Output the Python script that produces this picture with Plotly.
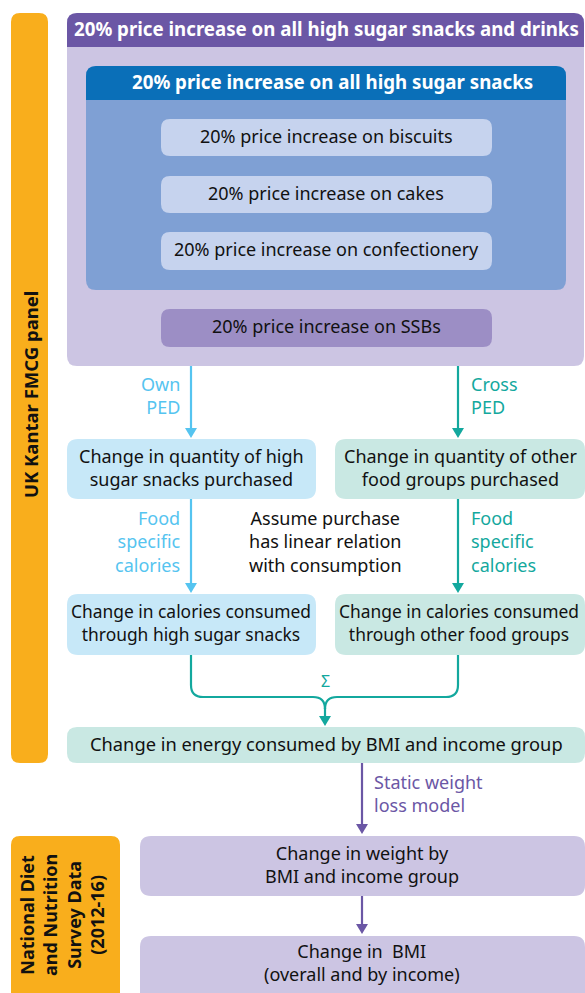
import plotly.graph_objects as go

W, H = 585, 993
FONT = "Noto Sans"
FS = 18
DY = -2  # optical text offset

# ---- texts (content) ----
outer_header = "20% price increase on all high sugar snacks and drinks"
inner_header = "20% price increase on all high sugar snacks"
item_labels = ["20% price increase on biscuits",
               "20% price increase on cakes",
               "20% price increase on confectionery"]
ssb_label = "20% price increase on SSBs"
left_boxes = ["Change in quantity of high<br>sugar snacks purchased",
              "Change in calories consumed<br>through high sugar snacks"]
right_boxes = ["Change in quantity of other<br>food groups purchased",
               "Change in calories consumed<br>through other food groups"]
energy_label = "Change in energy consumed by BMI and income group"
weight_label = "Change in weight by<br>BMI and income group"
bmi_label = "Change in  BMI<br>(overall and by income)"
side_labels = ["UK Kantar FMCG panel",
               "National Diet<br>and Nutrition<br>Survey Data<br>(2012-16)"]
arrow_labels = ["Own<br>PED", "Cross<br>PED", "Food<br>specific<br>calories",
                "Food<br>specific<br>calories", "Static weight<br>loss model"]
middle_note = "Assume purchase<br>has linear relation<br>with consumption"
sum_symbol = "Σ"

# ---- colours ----
ORANGE = "#f9ae1c"
PURPLE_D = "#6b57a5"
PURPLE_L = "#ccc5e3"
BLUE_D = "#0a6fb8"
BLUE_M = "#7fa0d4"
BLUE_L = "#c6d3ee"
SSB_C = "#9c8ec5"
SKY_L = "#c7e8f8"
SKY = "#55c4f0"
TEAL_L = "#c9e8e3"
TEAL = "#13a89e"


def rrect(x0, y0, x1, y1, r=10, tl=True, tr=True, br=True, bl=True):
    rtl, rtr, rbr, rbl = [r if f else 0 for f in (tl, tr, br, bl)]
    p = f"M{x0+rtl},{y0} L{x1-rtr},{y0} "
    p += f"Q{x1},{y0} {x1},{y0+rtr} " if rtr else ""
    p += f"L{x1},{y1-rbr} "
    p += f"Q{x1},{y1} {x1-rbr},{y1} " if rbr else ""
    p += f"L{x0+rbl},{y1} "
    p += f"Q{x0},{y1} {x0},{y1-rbl} " if rbl else ""
    p += f"L{x0},{y0+rtl} "
    p += f"Q{x0},{y0} {x0+rtl},{y0} " if rtl else ""
    return p + "Z"


shapes = []
ann = []


def box(x0, y0, x1, y1, color, r=10, **kw):
    shapes.append(dict(type="path", path=rrect(x0, y0, x1, y1, r, **kw),
                       fillcolor=color, line=dict(width=0), layer="below"))


def text(x, y, t, size=FS, color="#111111", bold=False, xanchor="center",
         align="center", angle=0, dy=DY):
    if bold:
        t = f"<b>{t}</b>"
    ann.append(dict(x=x, y=y + dy, xref="x", yref="y", text=t, showarrow=False,
                    xanchor=xanchor, yanchor="middle", align=align,
                    textangle=angle,
                    font=dict(family=FONT, size=size, color=color)))


def arrow(x, y0, y1, color, w=2.2, head=10, hw=6):
    shapes.append(dict(type="line", x0=x, x1=x, y0=y0, y1=y1 - head + 1,
                       line=dict(color=color, width=w)))
    shapes.append(dict(type="path",
                       path=f"M{x-hw},{y1-head} L{x+hw},{y1-head} L{x},{y1} Z",
                       fillcolor=color, line=dict(width=0)))


# side orange bars
box(11, 13, 48, 763, ORANGE, r=9)
box(11, 836, 120, 1010, ORANGE, r=9)
text(30, 395, side_labels[0], size=18.5, bold=True, angle=-90, dy=0)
text(62, 915, side_labels[1], size=18, bold=True, angle=-90, dy=0)

# outer purple container
box(67, 13, 584, 366, PURPLE_L, r=10)
box(67, 13, 584, 47, PURPLE_D, r=10, br=False, bl=False)
text(326, 30, outer_header, size=18.7, color="white", bold=True)

# inner blue container
box(86, 66, 566, 290, BLUE_M, r=10)
box(86, 66, 566, 100, BLUE_D, r=10, br=False, bl=False)
text(332, 83, inner_header, size=18.7, color="white", bold=True)

item_y = [(119, 156), (176, 213), (232, 270)]
for (y0, y1), lab in zip(item_y, item_labels):
    box(161, y0, 492, y1, BLUE_L, r=9)
    text(326, (y0 + y1) / 2, lab)

box(161, 309, 492, 347, SSB_C, r=9)
text(326, 328, ssb_label)

# PED arrows
LX, RX = 191, 458
arrow(LX, 366, 438, SKY)
arrow(RX, 366, 438, TEAL)
text(182, 397, arrow_labels[0], color=SKY, xanchor="right", align="right")
text(469, 397, arrow_labels[1], color=TEAL, xanchor="left", align="left")

# quantity boxes
box(67, 439, 316, 499, SKY_L, r=11)
box(335, 439, 585, 499, TEAL_L, r=11)
text(191, 469, left_boxes[0])
text(460, 469, right_boxes[0])

arrow(LX, 499, 593, SKY)
arrow(RX, 499, 593, TEAL)
text(182, 543, arrow_labels[2], color=SKY, xanchor="right", align="right")
text(469, 543, arrow_labels[3], color=TEAL, xanchor="left", align="left")
text(325, 543, middle_note)

# calorie boxes
box(67, 594, 316, 655, SKY_L, r=11)
box(335, 594, 585, 655, TEAL_L, r=11)
text(191, 624, left_boxes[1], size=17.4)
text(459, 624, right_boxes[1], size=17.4)

# bracket summing
CX, BY, R = 325, 697, 12
for sx in (LX, RX):
    d = 1 if sx < CX else -1
    shapes.append(dict(type="path",
                       path=(f"M{sx},655 L{sx},{BY-R} Q{sx},{BY} {sx+d*R},{BY} "
                             f"L{CX-d*R},{BY} Q{CX},{BY} {CX},{BY+R}"),
                       line=dict(color=TEAL, width=2.2)))
arrow(CX, BY + R - 1, 726, TEAL)
text(CX, 681, sum_symbol, size=16, color=TEAL, dy=0)

# energy box
box(67, 727, 585, 763, TEAL_L, r=10)
text(326, 745, energy_label, size=18.3)

# weight loss
MX = 362
arrow(MX, 763, 834, PURPLE_D)
text(372, 795, arrow_labels[4], color=PURPLE_D, xanchor="left", align="left")

box(140, 836, 585, 896, PURPLE_L, r=11)
text(MX, 866, weight_label)

arrow(MX, 896, 934, PURPLE_D)
box(140, 936, 585, 1010, PURPLE_L, r=11)
text(MX, 964, bmi_label)

fig = go.Figure()
fig.update_layout(
    width=W, height=H, margin=dict(l=0, r=0, t=0, b=0),
    paper_bgcolor="white", plot_bgcolor="white",
    xaxis=dict(range=[0, W], visible=False, fixedrange=True),
    yaxis=dict(range=[H, 0], visible=False, fixedrange=True),
    shapes=shapes, annotations=ann, showlegend=False,
)
fig.write_html("out.html", config={"displayModeBar": False},
               post_script="document.body.style.margin='0';"
                           "document.body.style.overflow='hidden';")
